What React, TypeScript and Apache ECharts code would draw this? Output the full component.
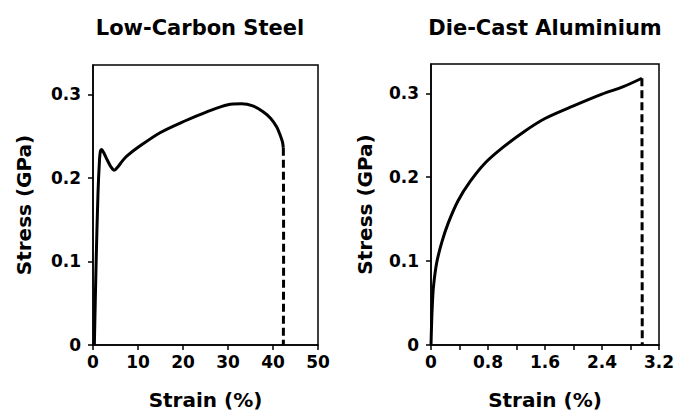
import React, { useEffect, useRef } from "react";
import * as echarts from "echarts";

// Low-Carbon Steel (strain %, stress GPa)
const steelStrain = [0.3, 0.7, 1.1, 1.45, 1.65, 1.9, 2.4, 3.2, 4.0, 4.7, 5.5, 6.5, 7.5, 10.4, 14.9, 20.4, 25.3, 30.0, 33.0, 35.5, 37.8, 39.5, 40.8, 41.6, 42.1, 42.3];
const steelStress = [0, 0.1, 0.18, 0.222, 0.232, 0.234, 0.23, 0.221, 0.213, 0.209, 0.213, 0.22, 0.226, 0.238, 0.254, 0.268, 0.279, 0.2875, 0.2885, 0.286, 0.279, 0.271, 0.261, 0.251, 0.243, 0.236];
const steelFractureStrain = [42.3, 42.35, 42.35, 42.3];
const steelFractureStress = [0.236, 0.16, 0.08, 0];

// Die-Cast Aluminium
const aluStrain = [0, 0.01, 0.02, 0.035, 0.08, 0.15, 0.24, 0.38, 0.55, 0.76, 1.0, 1.3, 1.6, 2.0, 2.4, 2.7, 2.96];
const aluStress = [0, 0.03, 0.05, 0.07, 0.098, 0.122, 0.145, 0.172, 0.195, 0.217, 0.235, 0.254, 0.27, 0.285, 0.299, 0.308, 0.318];
const aluFractureStrain = [2.96, 2.965];
const aluFractureStress = [0.318, 0];

const titles = ["Low-Carbon Steel", "Die-Cast Aluminium"];
const xName = "Strain (%)";
const yName = "Stress (GPa)";

const pairs = (xs: number[], ys: number[]) => xs.map((x, i) => [x, ys[i]]);

const FONT = "DejaVu Sans";

export default function App() {
  const ref = useRef<HTMLDivElement>(null);
  useEffect(() => {
    document.body.style.margin = "0";
    if (!ref.current) return;
    const chart = echarts.init(ref.current, null, { renderer: "svg" });
    const axisCommon = {
      axisLine: { show: true, lineStyle: { color: "#000", width: 1.5 } },
      axisTick: { show: true, inside: false, length: 5, lineStyle: { color: "#000", width: 1.5 } },
      splitLine: { show: false },
    };
    const labelStyle = { color: "#000", fontFamily: FONT, fontWeight: "bold" as const, fontSize: 17 };
    const nameStyle = { color: "#000", fontFamily: FONT, fontWeight: "bold" as const, fontSize: 20 };
    const titleStyle = { ...nameStyle, fontSize: 21 };
    const yAxis = (gridIndex: number, gap: number) => ({
      type: "value",
      gridIndex,
      min: 0,
      max: 0.335,
      interval: 0.1,
      name: yName,
      nameLocation: "middle",
      nameGap: gap,
      nameTextStyle: nameStyle,
      ...axisCommon,
      axisLabel: { ...labelStyle, margin: 12, showMaxLabel: false },
    });
    const dashed = { color: "#000", width: 3, type: [8, 4] };
    chart.setOption({
      animation: false,
      title: [
        { text: titles[0], left: 195, top: 12, textAlign: "center", textStyle: titleStyle },
        { text: titles[1], left: 540, top: 12, textAlign: "center", textStyle: titleStyle },
      ],
      grid: [
        { left: 93, top: 65, width: 225, height: 282, show: true, borderColor: "#000", borderWidth: 1.5, backgroundColor: "transparent" },
        { left: 431, top: 64, width: 228, height: 282, show: true, borderColor: "#000", borderWidth: 1.5, backgroundColor: "transparent" },
      ],
      xAxis: [
        {
          type: "value",
          gridIndex: 0,
          min: 0,
          max: 50,
          interval: 10,
          name: xName,
          nameLocation: "middle",
          nameGap: 45,
          nameTextStyle: nameStyle,
          ...axisCommon,
          axisLabel: { ...labelStyle, margin: 8 },
        },
        {
          type: "value",
          gridIndex: 1,
          min: 0,
          max: 3.2,
          interval: 0.8,
          name: xName,
          nameLocation: "middle",
          nameGap: 45,
          nameTextStyle: nameStyle,
          ...axisCommon,
          minorTick: { show: true, splitNumber: 2, length: 5, lineStyle: { color: "#000", width: 1.5 } },
          axisLabel: { ...labelStyle, margin: 8 },
        },
      ],
      yAxis: [yAxis(0, 59), yAxis(1, 56)],
      series: [
        {
          type: "line",
          xAxisIndex: 0,
          yAxisIndex: 0,
          data: pairs(steelStrain, steelStress),
          showSymbol: false,
          smooth: 0.3,
          lineStyle: { color: "#000", width: 3 },
        },
        {
          type: "line",
          xAxisIndex: 0,
          yAxisIndex: 0,
          data: pairs(steelFractureStrain, steelFractureStress),
          showSymbol: false,
          lineStyle: dashed,
        },
        {
          type: "line",
          xAxisIndex: 1,
          yAxisIndex: 1,
          data: pairs(aluStrain, aluStress),
          showSymbol: false,
          smooth: 0.3,
          lineStyle: { color: "#000", width: 3 },
        },
        {
          type: "line",
          xAxisIndex: 1,
          yAxisIndex: 1,
          data: pairs(aluFractureStrain, aluFractureStress),
          showSymbol: false,
          lineStyle: dashed,
        },
      ],
    });
    return () => chart.dispose();
  }, []);
  return <div ref={ref} style={{ width: 679, height: 415 }} />;
}
